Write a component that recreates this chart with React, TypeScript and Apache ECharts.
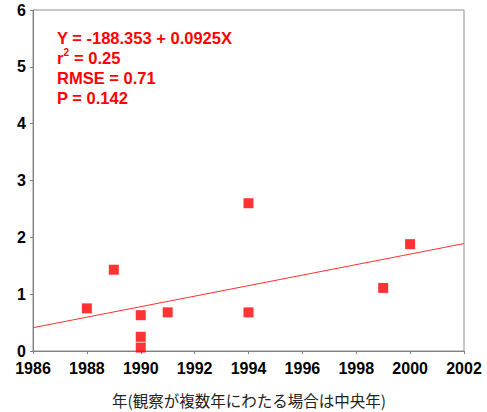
import React, { useEffect, useRef } from "react";
import * as echarts from "echarts";

const xYears = [1988, 1989, 1990, 1990, 1990, 1991, 1994, 1994, 1999, 2000];
const yValues = [0.75, 1.43, 0.63, 0.25, 0.06, 0.68, 2.6, 0.68, 1.11, 1.88];
const lineX = [1986, 2002];
const lineY = [0.41, 1.89];
const statLines = ["Y = -188.353 + 0.0925X", "RMSE = 0.71", "P = 0.142"];
const xTitle = "年(観察が複数年にわたる場合は中央年)";

export default function App() {
  const ref = useRef<HTMLDivElement>(null);
  useEffect(() => {
    if (!ref.current) return;
    const chart = echarts.init(ref.current, null, { renderer: "svg" });
    const font = "'Liberation Sans', Arial, sans-serif";
    const redText = { fill: "#ff0000", fontSize: 16.5, fontWeight: "bold", fontFamily: font };
    chart.setOption({
      animation: false,
      backgroundColor: "#ffffff",
      grid: { left: 33, top: 10, right: 23, bottom: 61, show: true, borderColor: "#909090", borderWidth: 1 },
      xAxis: {
        type: "value",
        min: 1986,
        max: 2002,
        interval: 2,
        axisLine: { show: true, lineStyle: { color: "#808080", width: 1 } },
        axisTick: { show: true, length: 3, lineStyle: { color: "#808080" } },
        splitLine: { show: false },
        axisLabel: {
          color: "#000",
          fontSize: 16,
          fontWeight: "bold",
          fontFamily: font,
          margin: 9,
          formatter: (v: number) => String(v),
        },
      },
      yAxis: {
        type: "value",
        min: 0,
        max: 6,
        interval: 1,
        axisLine: { show: true, lineStyle: { color: "#808080", width: 1 } },
        axisTick: { show: true, length: 3, lineStyle: { color: "#808080" } },
        splitLine: { show: false },
        axisLabel: {
          color: "#000",
          fontSize: 16,
          fontWeight: "bold",
          fontFamily: font,
          margin: 7,
          formatter: (v: number) => String(v),
        },
      },
      series: [
        {
          type: "line",
          data: lineX.map((x, i) => [x, lineY[i]]),
          symbol: "none",
          lineStyle: { color: "#ff3030", width: 1 },
          z: 1,
        },
        {
          type: "scatter",
          data: xYears.map((x, i) => [x, yValues[i]]),
          symbol: "rect",
          symbolSize: 10,
          itemStyle: { color: "#ff0000" },
          z: 2,
        },
      ],
      graphic: [
        { type: "text", left: 57, top: 29, style: { ...redText, text: statLines[0] } },
        { type: "text", left: 57, top: 49, style: { ...redText, text: "r" } },
        { type: "text", left: 63.5, top: 47, style: { ...redText, fontSize: 10, text: "2" } },
        { type: "text", left: 69.5, top: 49, style: { ...redText, text: " = 0.25" } },
        { type: "text", left: 57, top: 69, style: { ...redText, text: statLines[1] } },
        { type: "text", left: 57, top: 89, style: { ...redText, text: statLines[2] } },
        {
          type: "text",
          x: 249,
          y: 400,
          style: {
            text: xTitle,
            fill: "#222",
            fontSize: 15.5,
            fontFamily: "'Noto Sans CJK JP', sans-serif",
            align: "center",
            verticalAlign: "middle",
          },
        },
      ],
    });
    return () => chart.dispose();
  }, []);
  return (
    <div
      ref={ref}
      style={{ position: "fixed", left: 0, top: 0, width: 487, height: 412 }}
    />
  );
}
